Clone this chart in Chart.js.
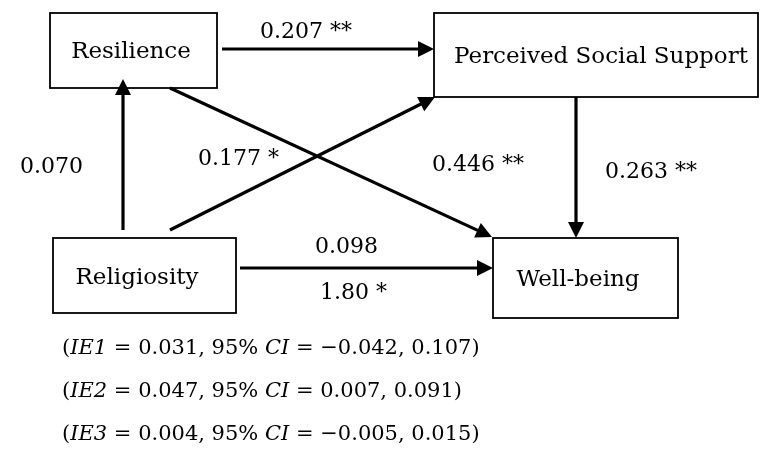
<!DOCTYPE html>
<html lang="en">
<head>
    <meta charset="UTF-8">
    <title>Religiosity, Resilience, Social Support and Well-being</title>
    <script src="https://cdn.jsdelivr.net/npm/chart.js"></script>
    <style>
        body { margin: 0; background: #fff; }
        #wrap { width: 760px; height: 460px; }
    </style>
</head>
<body>
<div id="wrap"><canvas id="pathChart"></canvas></div>

<script>
    // variables (boxes) and path coefficients
    const nodes = ['Resilience', 'Perceived Social Support', 'Religiosity', 'Well-being'];
    const pathFrom = ['Resilience', 'Religiosity', 'Religiosity', 'Resilience', 'Perceived Social Support', 'Religiosity'];
    const pathTo = ['Perceived Social Support', 'Resilience', 'Perceived Social Support', 'Well-being', 'Well-being', 'Well-being'];
    const pathCoef = ['0.207 **', '0.070', '0.177 *', '0.446 **', '0.263 **', '0.098'];
    const directCoef = ['', '', '', '', '', '1.80 *'];

    // indirect effects
    const ieNames = ['IE1', 'IE2', 'IE3'];
    const ieValues = ['0.031', '0.047', '0.004'];
    const ciLow = ['\u22120.042', '0.007', '\u22120.005'];
    const ciHigh = ['0.107', '0.091', '0.015'];

    // layout (value space of the hidden axes, 0..760 x 0..460)
    const boxes = {
        'Resilience': { x1: 50, y1: 13, x2: 217, y2: 88, tx: 131, ty: 52 },
        'Perceived Social Support': { x1: 434, y1: 13, x2: 758, y2: 97, tx: 601, ty: 57 },
        'Religiosity': { x1: 53, y1: 238, x2: 236, y2: 313, tx: 137, ty: 278 },
        'Well-being': { x1: 493, y1: 238, x2: 678, y2: 318, tx: 578, ty: 280 }
    };
    const edges = [
        { from: [222, 49], to: [434, 49], label: [260, 32] },
        { from: [123, 230], to: [123, 79], label: [20, 167] },
        { from: [170, 230], to: [435, 97], label: [198, 159] },
        { from: [170, 88], to: [492, 237], label: [432, 165] },
        { from: [576, 97], to: [576, 238], label: [605, 172] },
        { from: [240, 268], to: [493, 268], label: [315, 247], label2: [320, 293] }
    ];
    const HEAD_LEN = 16, HEAD_W = 8;
    const FONT = '"DejaVu Serif", serif';
    const ieLeft = 62, ieTop = 349, ieStep = 43;

    // lines end at the arrowhead base
    const edgeDatasets = edges.map((e, i) => {
        const dx = e.to[0] - e.from[0], dy = e.to[1] - e.from[1];
        const len = Math.hypot(dx, dy);
        const bx = e.to[0] - dx / len * (HEAD_LEN - 2);
        const by = e.to[1] - dy / len * (HEAD_LEN - 2);
        return {
            label: pathFrom[i] + ' \u2192 ' + pathTo[i],
            data: [{ x: e.from[0], y: e.from[1] }, { x: bx, y: by }],
            showLine: true,
            borderColor: '#000',
            borderWidth: 3.2,
            pointRadius: 0,
            borderCapStyle: 'butt'
        };
    });

    const diagramPlugin = {
        id: 'diagram',
        beforeDraw(chart) {
            const c = chart.ctx;
            c.save();
            c.fillStyle = '#fff';
            c.fillRect(0, 0, chart.width, chart.height);
            c.restore();
        },
        afterDatasetsDraw(chart) {
            const c = chart.ctx;
            const sx = v => chart.scales.x.getPixelForValue(v);
            const sy = v => chart.scales.y.getPixelForValue(v);
            c.save();
            c.fillStyle = '#000';
            c.strokeStyle = '#000';

            // boxes
            c.lineWidth = 1.8;
            nodes.forEach(n => {
                const b = boxes[n];
                c.strokeRect(sx(b.x1), sy(b.y1), sx(b.x2) - sx(b.x1), sy(b.y2) - sy(b.y1));
                c.font = '23px ' + FONT;
                c.textAlign = 'center';
                c.textBaseline = 'middle';
                c.fillText(n, sx(b.tx), sy(b.ty));
            });

            // arrowheads
            edges.forEach(e => {
                const x0 = sx(e.from[0]), y0 = sy(e.from[1]);
                const x1 = sx(e.to[0]), y1 = sy(e.to[1]);
                const a = Math.atan2(y1 - y0, x1 - x0);
                c.beginPath();
                c.moveTo(x1, y1);
                c.lineTo(x1 - HEAD_LEN * Math.cos(a) + HEAD_W * Math.sin(a), y1 - HEAD_LEN * Math.sin(a) - HEAD_W * Math.cos(a));
                c.lineTo(x1 - HEAD_LEN * Math.cos(a) - HEAD_W * Math.sin(a), y1 - HEAD_LEN * Math.sin(a) + HEAD_W * Math.cos(a));
                c.closePath();
                c.fill();
            });

            // coefficients
            c.font = '22px ' + FONT;
            c.textAlign = 'left';
            c.textBaseline = 'middle';
            edges.forEach((e, i) => {
                c.fillText(pathCoef[i], sx(e.label[0]), sy(e.label[1]));
                if (e.label2 && directCoef[i]) c.fillText(directCoef[i], sx(e.label2[0]), sy(e.label2[1]));
            });

            // indirect effects, with italic symbols
            ieNames.forEach((name, i) => {
                const parts = [
                    ['(', false], [name, true], [' = ' + ieValues[i] + ', 95% ', false],
                    ['CI', true], [' = ' + ciLow[i] + ', ' + ciHigh[i] + ')', false]
                ];
                let x = sx(ieLeft);
                const y = sy(ieTop + i * ieStep);
                parts.forEach(([txt, it]) => {
                    c.font = (it ? 'italic ' : '') + '21px ' + FONT;
                    c.fillText(txt, x, y);
                    x += c.measureText(txt).width;
                });
            });
            c.restore();
        }
    };

    new Chart(document.getElementById('pathChart'), {
        type: 'scatter',
        data: { datasets: edgeDatasets },
        options: {
            responsive: true,
            maintainAspectRatio: false,
            animation: false,
            layout: { padding: 0 },
            plugins: { legend: { display: false }, tooltip: { enabled: false } },
            scales: {
                x: { type: 'linear', min: 0, max: 760, display: false },
                y: { type: 'linear', min: 0, max: 460, reverse: true, display: false }
            }
        },
        plugins: [diagramPlugin]
    });
</script>
</body>
</html>
